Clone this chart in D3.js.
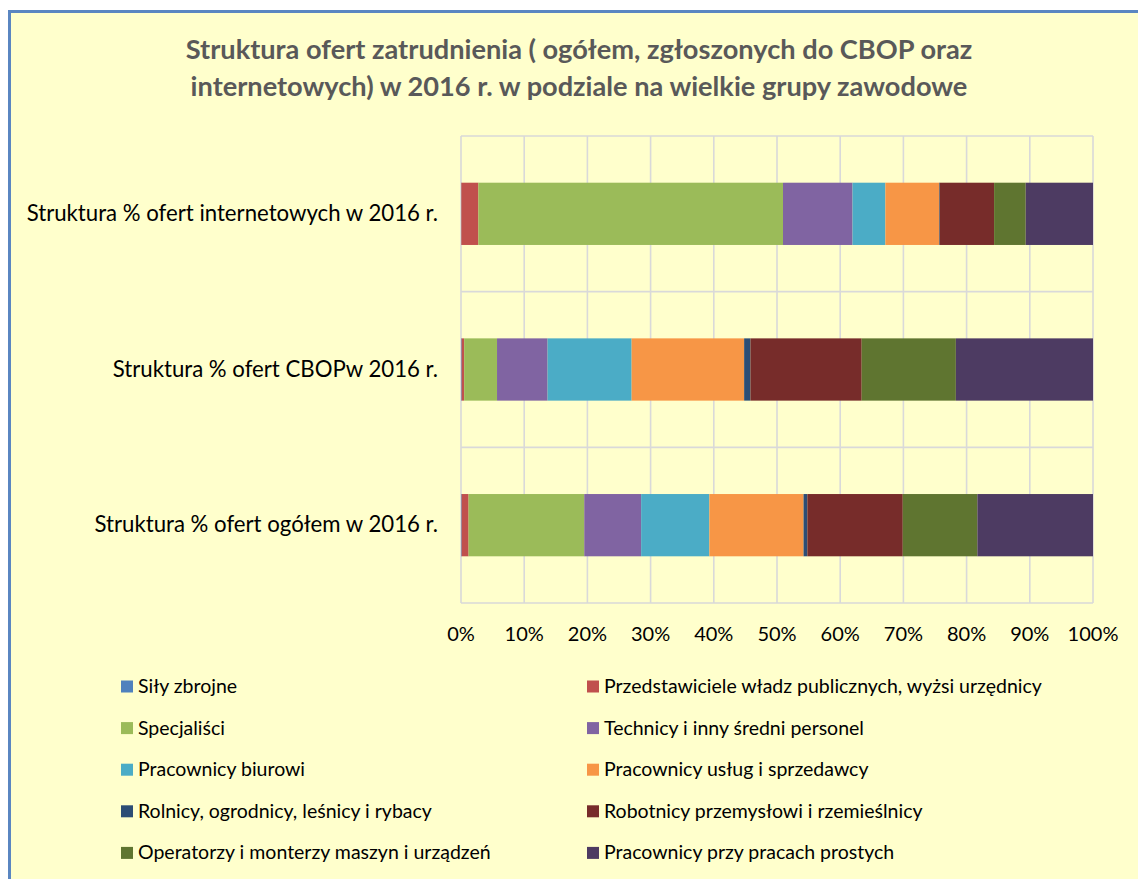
<!doctype html>
<html lang="pl">
<head>
    <meta charset="UTF-8">
    <title>Struktura ofert zatrudnienia 2016</title>
    <script src="https://cdn.jsdelivr.net/npm/d3@7"></script>
    <style>
        body{
            margin:0;
            background:#ffffff;
            font-family: Lato, "Open Sans", sans-serif;
        }
        .frame{
            fill:#ffffcc;
            stroke:#5a86c1;
            stroke-width:3px;
        }
        .grid line{
            stroke:#d9d9d9;
            stroke-width:1.6px;
        }
        .title{
            fill:#595959;
            font-weight:bold;
            font-size:27.2px;
        }
        .catLabel{
            fill:#000;
            font-size:22.2px;
        }
        .tickLabel{
            fill:#000;
            font-size:20px;
        }
        .legend text{
            fill:#000;
            font-size:19.5px;
        }
    </style>
</head>
<body>
<svg width="1138" height="879"></svg>
<script>
    // categories (top to bottom as in the chart)
    const categories = [
        "Struktura % ofert internetowych w 2016 r.",
        "Struktura % ofert CBOPw 2016 r.",
        "Struktura % ofert ogółem w 2016 r."
    ];
    // occupational groups = series
    const groups = [
        "Siły zbrojne",
        "Przedstawiciele władz publicznych, wyżsi urzędnicy",
        "Specjaliści",
        "Technicy i inny średni personel",
        "Pracownicy biurowi",
        "Pracownicy usług i sprzedawcy",
        "Rolnicy, ogrodnicy, leśnicy i rybacy",
        "Robotnicy przemysłowi i rzemieślnicy",
        "Operatorzy i monterzy maszyn i urządzeń",
        "Pracownicy przy pracach prostych"
    ];
    const colors = ["#4f81bd","#c0504d","#9bbb59","#8064a2","#4bacc6",
                    "#f79646","#2c4d75","#772c2a","#5f7530","#4d3b62"];

    // % values (same order as groups)
    const internetowe = [0.05, 2.7, 48.2, 11.0, 5.2, 8.5, 0.1, 8.6, 5.0, 10.65];
    const cbop        = [0.1, 0.4, 5.2, 8.0, 13.3, 17.8, 1.0, 17.6, 14.9, 21.7];
    const ogolem      = [0.1, 1.1, 18.3, 9.0, 10.8, 14.9, 0.6, 15.1, 11.8, 18.3];
    const ticks = ["0%","10%","20%","30%","40%","50%","60%","70%","80%","90%","100%"];

    const titleLines = [
        "Struktura ofert zatrudnienia ( ogółem, zgłoszonych do CBOP oraz",
        "internetowych) w 2016 r. w podziale na wielkie grupy zawodowe"
    ];

    // table for d3.stack
    const rows = [internetowe, cbop, ogolem].map((vals, i) => {
        let r = {cat: categories[i]};
        groups.forEach((g, j) => r[g] = vals[j]);
        return r;
    });

    const svg = d3.select("svg");

    // background panel
    svg.append("rect").attr("class","frame")
        .attr("x",9.5).attr("y",11.5).attr("width",1140).attr("height",880);

    // title
    svg.append("g").selectAll("text")
        .data(titleLines).enter().append("text")
        .attr("class","title")
        .attr("x",579).attr("y",(d,i)=>59+i*37)
        .attr("text-anchor","middle")
        .text(d=>d);

    const x = d3.scaleLinear().domain([0,100]).range([461,1093]);
    const y = d3.scaleBand().domain(categories).range([136,603])
        .paddingInner(0.6).paddingOuter(0.3);

    // grid: vertical lines at ticks, horizontal at category boundaries
    const grid = svg.append("g").attr("class","grid");
    grid.selectAll(".v").data(d3.range(0,101,10)).enter().append("line")
        .attr("x1",d=>x(d)).attr("x2",d=>x(d))
        .attr("y1",136).attr("y2",603);
    const bounds = [0,1,2,3].map(i => 136 + i*y.step());
    grid.selectAll(".h").data(bounds).enter().append("line")
        .attr("x1",x(0)).attr("x2",x(100))
        .attr("y1",d=>d).attr("y2",d=>d);

    // stacked bars
    const stack = d3.stack().keys(groups)(rows);
    svg.append("g").selectAll("g")
        .data(stack).enter().append("g")
        .attr("fill",(d,i)=>colors[i])
        .selectAll("rect")
        .data(d=>d).enter().append("rect")
        .attr("x",d=>x(d[0]))
        .attr("width",d=>Math.max(0,x(d[1])-x(d[0])))
        .attr("y",d=>y(d.data.cat))
        .attr("height",y.bandwidth());

    // category labels
    svg.append("g").selectAll("text")
        .data(categories).enter().append("text")
        .attr("class","catLabel")
        .attr("x",438).attr("y",d=>y(d)+y.bandwidth()/2+7)
        .attr("text-anchor","end")
        .text(d=>d);

    // x tick labels
    svg.append("g").selectAll("text")
        .data(ticks).enter().append("text")
        .attr("class","tickLabel")
        .attr("x",(d,i)=>x(i*10)).attr("y",641)
        .attr("text-anchor","middle")
        .text(d=>d);

    // legend, two columns
    const legend = svg.append("g").attr("class","legend")
        .selectAll("g").data(groups).enter().append("g")
        .attr("transform",(d,i)=>`translate(${i%2 ? 587 : 121},${686.5 + Math.floor(i/2)*41.6})`);
    legend.append("rect")
        .attr("x",0).attr("y",-6).attr("width",12).attr("height",12)
        .attr("fill",(d,i)=>colors[i]);
    legend.append("text")
        .attr("x",17).attr("y",6.5)
        .text(d=>d);
</script>
</body>
</html>
